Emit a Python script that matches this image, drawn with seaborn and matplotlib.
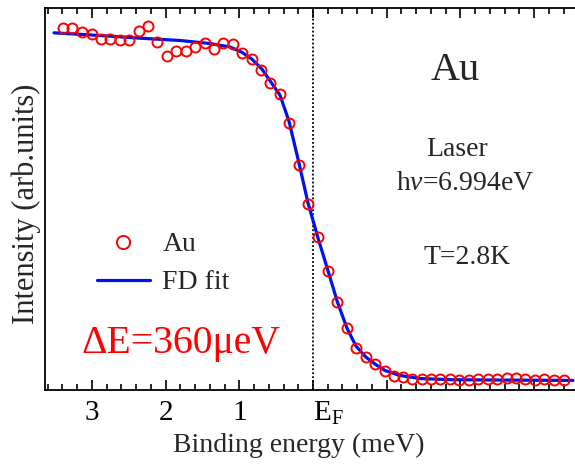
import numpy as np
import pandas as pd
import matplotlib
matplotlib.use("Agg")
import matplotlib.pyplot as plt
import seaborn as sns
from matplotlib.ticker import FixedLocator, MultipleLocator
from matplotlib.lines import Line2D

# ---- data (binding energy in meV, intensity in arb. units) ----
data_energy = [3.396, 3.270, 3.138, 3.003, 2.881, 2.750, 2.623, 2.493, 2.365, 2.235,
               2.117, 1.981, 1.855, 1.727, 1.601, 1.469, 1.347, 1.217, 1.090, 0.957,
               0.834, 0.701, 0.579, 0.448, 0.322, 0.186, 0.064, -0.064, -0.199, -0.328,
               -0.461, -0.583, -0.715, -0.841, -0.973, -1.095, -1.221, -1.347, -1.475, -1.601,
               -1.727, -1.855, -1.985, -2.113, -2.243, -2.370, -2.501, -2.628, -2.754, -2.881,
               -3.012, -3.138, -3.270, -3.402]
data_intensity = [0.947, 0.947, 0.938, 0.931, 0.919, 0.919, 0.916, 0.916, 0.941, 0.953,
                  0.912, 0.874, 0.887, 0.888, 0.897, 0.908, 0.893, 0.908, 0.907, 0.881,
                  0.867, 0.839, 0.803, 0.774, 0.700, 0.589, 0.486, 0.400, 0.312, 0.231,
                  0.162, 0.111, 0.086, 0.067, 0.049, 0.036, 0.033, 0.030, 0.028, 0.028,
                  0.028, 0.028, 0.026, 0.026, 0.028, 0.028, 0.029, 0.031, 0.031, 0.029,
                  0.026, 0.028, 0.026, 0.026]

fit_energy = [3.514, 2.890, 2.347, 1.805, 1.398, 1.126, 0.963, 0.828, 0.692, 0.570,
              0.448, 0.326, 0.190, 0.068, -0.068, -0.204, -0.332, -0.461, -0.583, -0.719,
              -0.841, -0.977, -1.180, -1.452, -1.859, -2.537, -3.528]
fit_intensity = [0.935, 0.928, 0.921, 0.915, 0.907, 0.898, 0.884, 0.866, 0.840, 0.806,
                 0.772, 0.704, 0.594, 0.490, 0.398, 0.312, 0.230, 0.162, 0.115, 0.086,
                 0.068, 0.051, 0.038, 0.030, 0.027, 0.026, 0.025]

major_ticks = [3, 2, 1, 0, -1, -2, -3]
major_labels = ["3", "2", "1", r"$\mathrm{E}_\mathrm{F}$", "", "", ""]

df_data = pd.DataFrame({"E": data_energy, "I": data_intensity})
df_fit = pd.DataFrame({"E": fit_energy, "I": fit_intensity})

sns.set_style("ticks")
plt.rcParams["font.family"] = ["Liberation Serif", "DejaVu Serif"]
plt.rcParams["mathtext.fontset"] = "custom"
plt.rcParams["mathtext.rm"] = "Liberation Serif"
plt.rcParams["mathtext.it"] = "Liberation Serif:italic"
plt.rcParams["axes.linewidth"] = 1.3

fig = plt.figure(figsize=(5.75, 4.68), dpi=100)
ax = fig.add_axes([45 / 575, 1 - 390 / 468, 530 / 575, 382 / 468])

ax.axvline(0, color="black", linestyle=(0, (1, 1.2)), linewidth=1.3, zorder=1)

sns.lineplot(data=df_fit, x="E", y="I", ax=ax, color="#0010ee", linewidth=2.3,
             sort=False, zorder=2)
sns.lineplot(data=df_data, x="E", y="I", ax=ax, linestyle="", marker="o",
             markersize=7.2, markerfacecolor="none", markeredgecolor="#ff0000",
             markeredgewidth=1.4, sort=False, zorder=3)

ax.set_xlim(3.636, -3.555)
ax.set_ylim(0, 1)

ax.xaxis.set_major_locator(FixedLocator(major_ticks))
ax.set_xticklabels(major_labels)
ax.xaxis.set_minor_locator(MultipleLocator(0.2))
ax.set_yticks([])
ax.tick_params(axis="x", which="both", direction="in", top=True, bottom=True,
               labelsize=21, pad=7, width=1.2, colors="black")
ax.tick_params(axis="x", which="major", length=7)
ax.tick_params(axis="x", which="minor", length=4)
for lbl in ax.get_xticklabels():
    if "E" in lbl.get_text():
        lbl.set_ha("left")

ax.spines["right"].set_visible(False)
for s in ["left", "top", "bottom"]:
    ax.spines[s].set_color("black")

ax.set_xlabel("Binding energy (meV)", fontsize=20)
ax.xaxis.label.set_va("center")
ax.xaxis.set_label_coords((299 - 45) / 530, (390 - 445) / 382)
ax.set_ylabel("Intensity (arb.units)", fontsize=22)
ax.yaxis.label.set_va("center")
ax.yaxis.set_label_coords((26 - 45) / 530, (390 - 204) / 382)

handles = [Line2D([], [], linestyle="", marker="o", markersize=9.5, markerfacecolor="none",
                  markeredgecolor="#ff0000", markeredgewidth=1.4),
           Line2D([], [], color="#0010ee", linewidth=2.3)]
leg = ax.legend(handles, ["Au", "FD fit"], frameon=False, fontsize=20,
                loc="upper left", bbox_to_anchor=((97 - 45) / 530, (390 - 232) / 382),
                borderaxespad=0, borderpad=0, handlelength=1.9, handletextpad=0.45,
                labelspacing=0.45)

def ftext(x, y, s, **kw):
    fig.text(x / 575, 1 - y / 468, s, ha="center", va="center", **kw)

ftext(455, 70, "Au", fontsize=29)
ftext(457, 149, "Laser", fontsize=20)
ftext(465, 184, r"h$\nu$=6.994eV", fontsize=20)
ftext(467, 257, "T=2.8K", fontsize=20)
ftext(181, 343, "ΔE=360μeV", fontsize=28.5, color="#ff0000")

fig.savefig("out.png", dpi=100)
